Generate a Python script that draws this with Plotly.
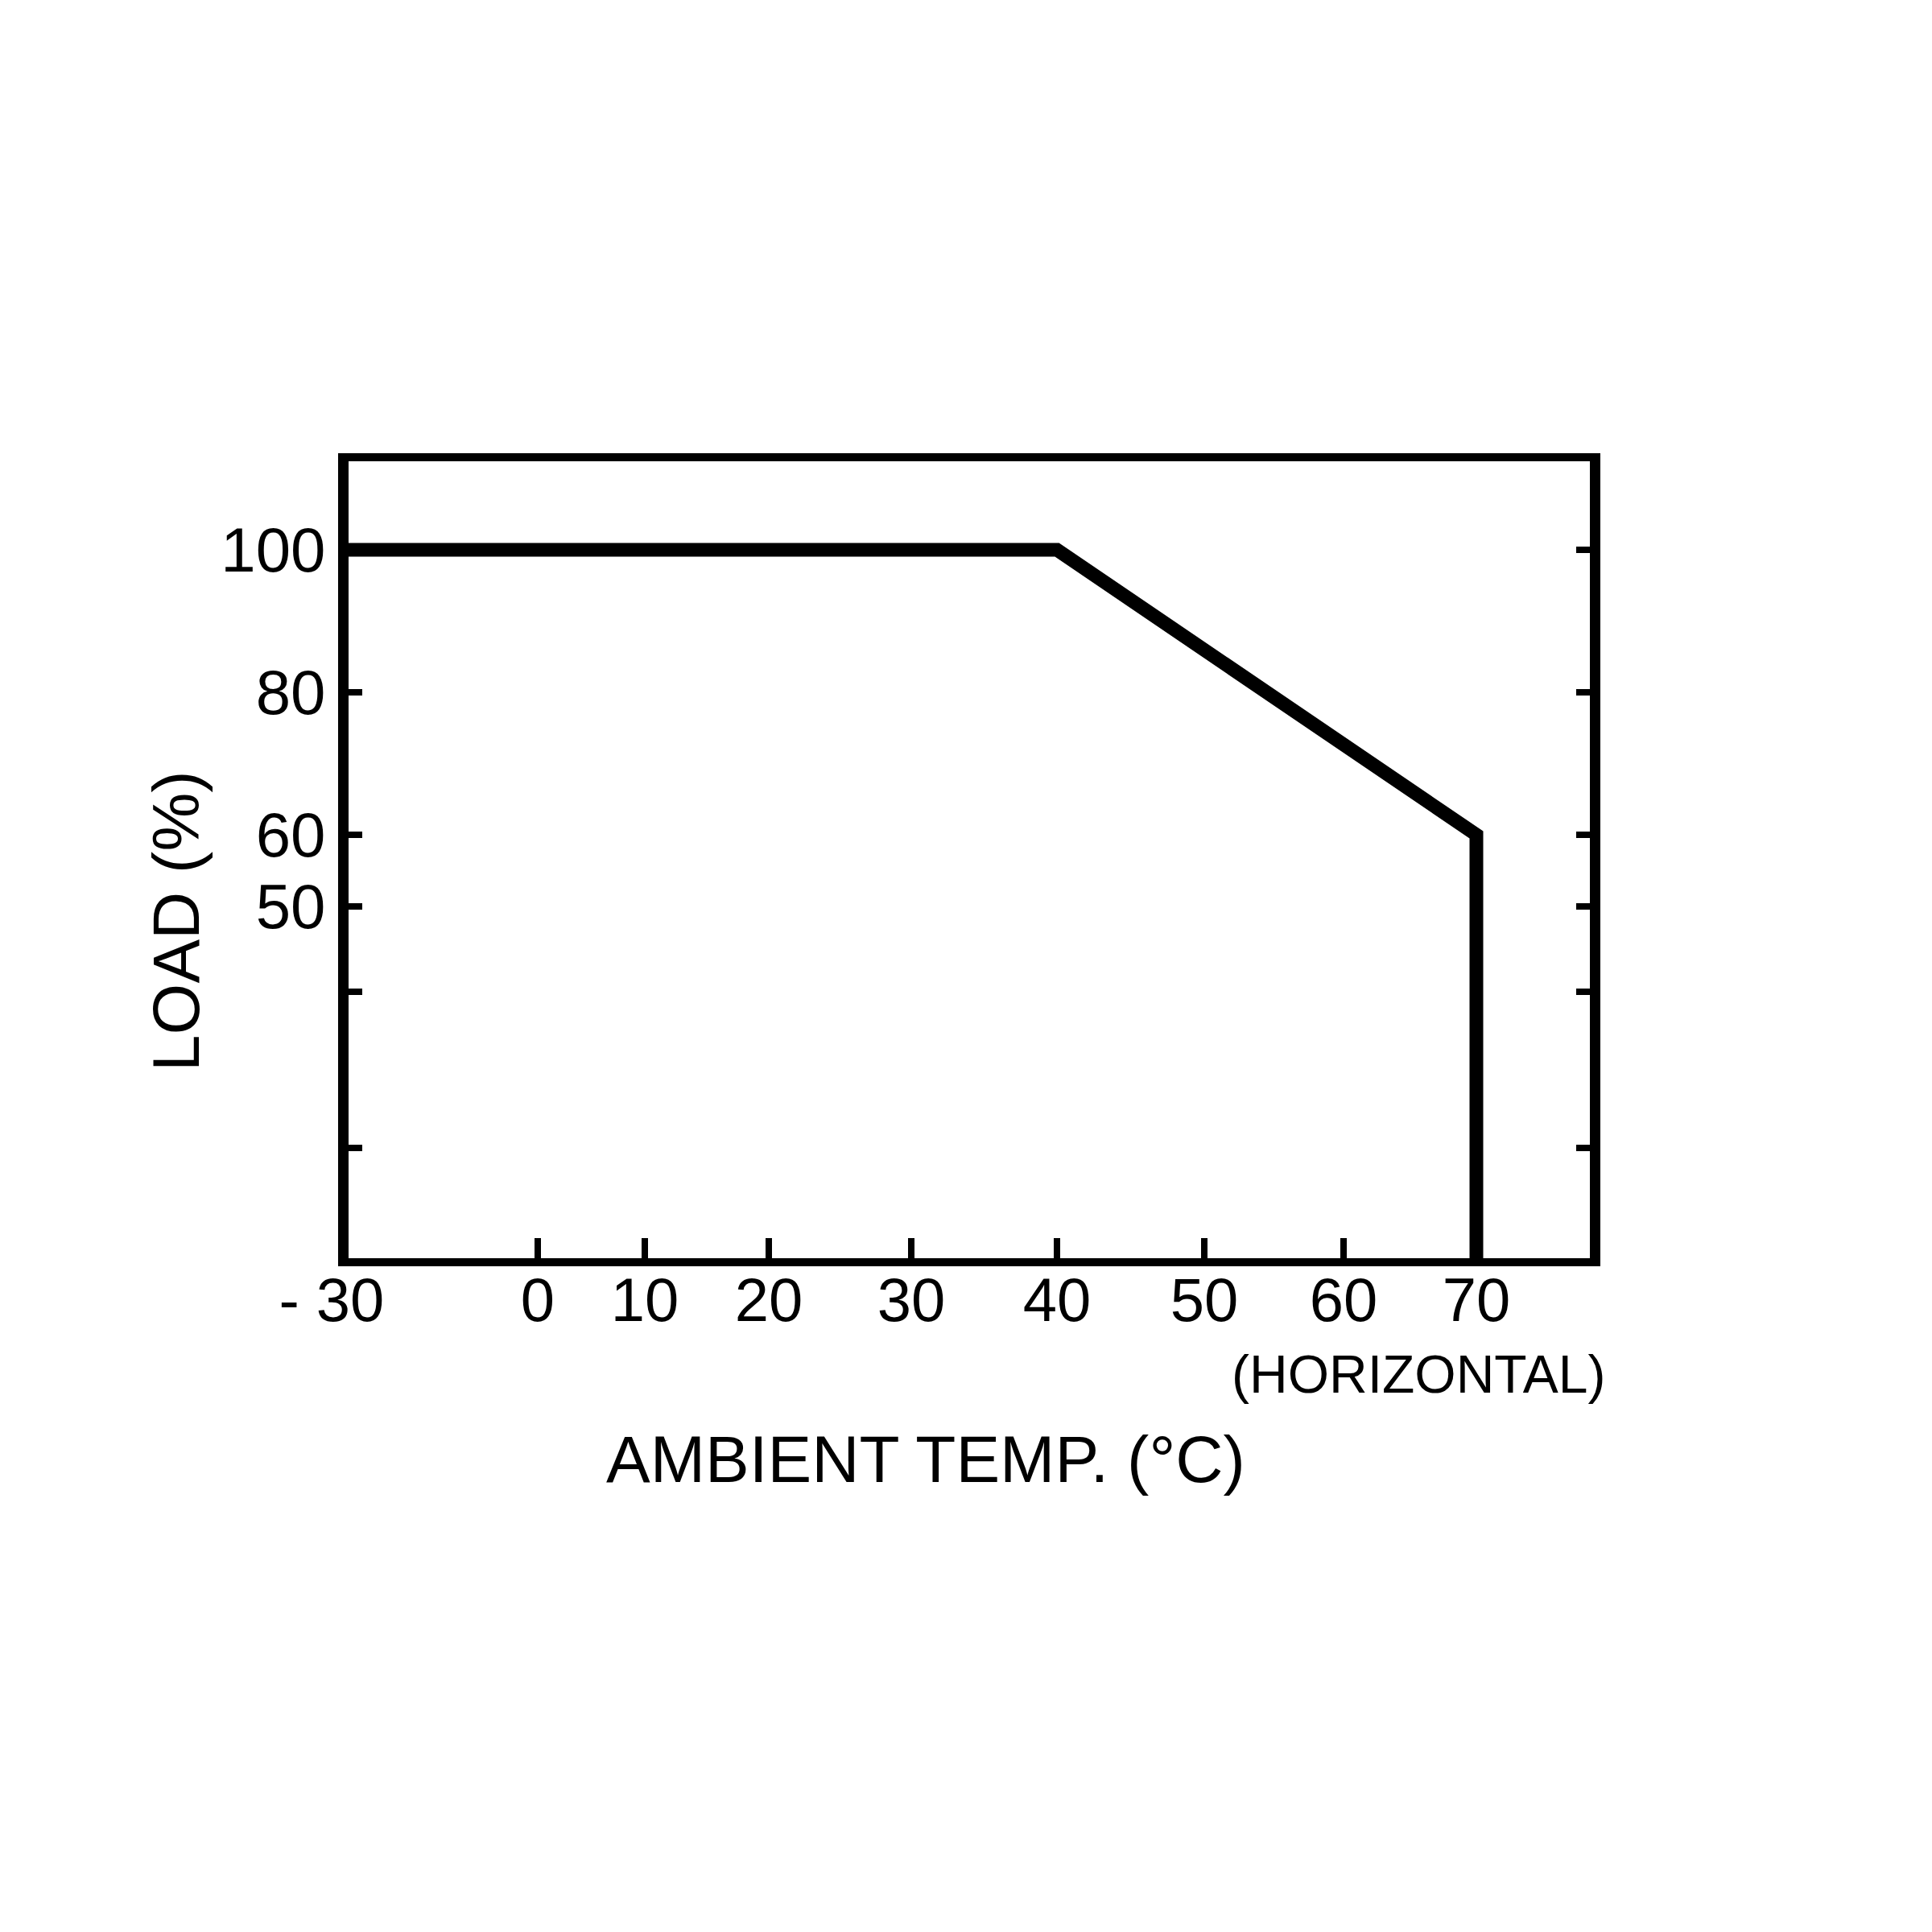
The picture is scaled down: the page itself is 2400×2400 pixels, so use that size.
import numpy as np
import plotly.graph_objects as go

# ---------------- data ----------------
temp_c = [-30, 40, 70, 70]          # ambient temperature (°C)
load_pct = [100, 100, 60, 0]        # load (%)

x_tick_values = [-30, 0, 10, 20, 30, 40, 50, 60, 70]
x_tick_labels = ["- 30\u00a0\u00a0", "0", "10", "20", "30", "40", "50", "60", "70"]
y_tick_values = [100, 80, 60, 50, 38, 16]
y_tick_labels = ["100", "80", "60", "50", "", ""]

# ---------------- layout / hand-drawn scale ----------------
W = H = 2400
FONT = "Liberation Sans"
PLOT_L, PLOT_R, PLOT_T, PLOT_B = 425, 1967, 565, 1555
# the original temperature scale is hand drawn (non-uniform): figure pixel of each tick
x_tick_px = [425, 660, 793, 947, 1124, 1305, 1488, 1661, 1826]
Y0_PX, Y100_PX = 1560, 675           # figure pixel of load 0 % and 100 %
px_per_pct = (Y0_PX - Y100_PX) / 100.0
y_range = [(Y0_PX - PLOT_B) / px_per_pct, (Y0_PX - PLOT_T) / px_per_pct]


def x_scale(v):
    return np.interp(v, x_tick_values, x_tick_px)


def paper_x(px):
    return (px - PLOT_L) / (PLOT_R - PLOT_L)


def paper_y(py):
    return (PLOT_B - py) / (PLOT_B - PLOT_T)


fig = go.Figure()
fig.add_trace(go.Scatter(
    x=x_scale(temp_c), y=load_pct, mode="lines",
    line=dict(color="black", width=17),
    hoverinfo="skip", showlegend=False,
))

fig.update_layout(
    width=W, height=H,
    margin=dict(l=PLOT_L, r=W - PLOT_R, t=PLOT_T, b=H - PLOT_B, autoexpand=False),
    paper_bgcolor="white", plot_bgcolor="white",
    font=dict(family=FONT, color="black"),
    showlegend=False,
)
fig.update_xaxes(
    range=[PLOT_L, PLOT_R], showgrid=False, zeroline=False,
    showline=True, linecolor="black", linewidth=10, mirror=True,
    ticks="inside", ticklen=25, tickwidth=8, tickcolor="black",
    tickvals=list(x_scale(x_tick_values)), ticktext=x_tick_labels,
    tickfont=dict(family=FONT, size=76, color="black"),
    ticklabelstandoff=-23,
)
fig.update_yaxes(
    range=y_range, showgrid=False, zeroline=False,
    showline=True, linecolor="black", linewidth=13, mirror="ticks",
    ticks="inside", ticklen=17, tickwidth=8, tickcolor="black",
    tickvals=y_tick_values, ticktext=y_tick_labels,
    tickfont=dict(family=FONT, size=78, color="black"),
)

fig.add_annotation(text="(HORIZONTAL)", xref="paper", yref="paper",
                   x=paper_x(1754), y=paper_y(1699), showarrow=False,
                   xanchor="center", yanchor="middle",
                   font=dict(family=FONT, size=66, color="black"))
fig.add_annotation(text="AMBIENT TEMP. (°C)", xref="paper", yref="paper",
                   x=paper_x(1142), y=paper_y(1804), showarrow=False,
                   xanchor="center", yanchor="middle",
                   font=dict(family=FONT, size=82, color="black"))
fig.add_annotation(text="LOAD (%)", xref="paper", yref="paper",
                   x=paper_x(210), y=paper_y(1136), showarrow=False,
                   textangle=-90, xanchor="center", yanchor="middle",
                   font=dict(family=FONT, size=82, color="black"))

fig.write_html("out.html")
